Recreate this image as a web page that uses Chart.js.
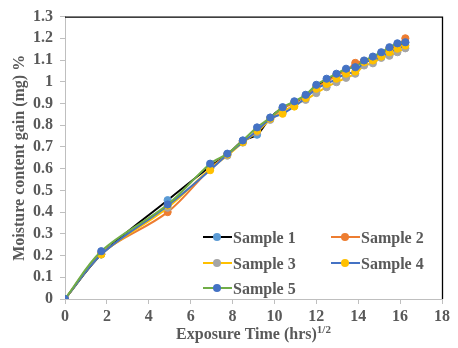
<!DOCTYPE html>
<html><head><meta charset="utf-8">
<script src="https://cdn.jsdelivr.net/npm/chart.js@4.4.1/dist/chart.umd.min.js"></script>
<style>html,body{margin:0;padding:0;background:#fff}#wrap{width:458px;height:348px;position:relative}</style>
</head><body><div id="wrap"><canvas id="c" width="458" height="348"></canvas></div>
<script>
// ---- data ----
const timeX = [0, 1.73, 4.90, 6.93, 7.75, 8.49, 9.17, 9.80, 10.39, 10.95, 11.49, 12.00, 12.49, 12.96, 13.42, 13.86, 14.28, 14.70, 15.10, 15.49, 15.87, 16.25];
const sample1 = [0, 0.205, 0.455, 0.610, 0.665, 0.728, 0.756, 0.835, 0.880, 0.905, 0.935, 0.978, 1.005, 1.030, 1.055, 1.075, 1.095, 1.110, 1.130, 1.150, 1.165, 1.180];
const sample2 = [0, 0.210, 0.400, 0.600, 0.665, 0.725, 0.770, 0.830, 0.875, 0.905, 0.935, 0.975, 1.000, 1.030, 1.050, 1.087, 1.095, 1.110, 1.130, 1.155, 1.170, 1.200];
const sample3 = [0, 0.205, 0.420, 0.600, 0.660, 0.720, 0.770, 0.825, 0.860, 0.895, 0.917, 0.948, 0.975, 0.998, 1.018, 1.037, 1.075, 1.085, 1.110, 1.120, 1.136, 1.154];
const sample4 = [0, 0.205, 0.430, 0.593, 0.665, 0.722, 0.775, 0.830, 0.853, 0.886, 0.925, 0.968, 0.990, 1.014, 1.037, 1.047, 1.090, 1.098, 1.116, 1.136, 1.152, 1.167];
const sample5 = [0, 0.220, 0.435, 0.623, 0.669, 0.730, 0.790, 0.835, 0.883, 0.910, 0.940, 0.986, 1.014, 1.037, 1.060, 1.067, 1.098, 1.116, 1.136, 1.159, 1.177, 1.182];
const seriesNames = ['Sample 1', 'Sample 2', 'Sample 3', 'Sample 4', 'Sample 5'];
const xTickLabels = ['0', '2', '4', '6', '8', '10', '12', '14', '16', '18'];
const yTickLabels = ['0', '0.1', '0.2', '0.3', '0.4', '0.5', '0.6', '0.7', '0.8', '0.9', '1', '1.1', '1.2', '1.3'];
const xTitle = 'Exposure Time (hrs)';
const xTitleSup = '1/2';
const yTitle = 'Moisture content gain (mg) %';

// ---- styles ----
const lineColors = ['#000000', '#ED7D31', '#FFC000', '#4472C4', '#70AD47'];
const markerColors = ['#5B9BD5', '#ED7D31', '#A5A5A5', '#FFC000', '#4472C4'];
const FONT = "'Liberation Serif', 'Times New Roman', serif";
const TXT = '#595959';
const AXIS = '#BFBFBF';

Chart.defaults.font.family = FONT;
Chart.defaults.font.weight = 'bold';
Chart.defaults.font.size = 16;
Chart.defaults.color = TXT;

const allSeries = [sample1, sample2, sample3, sample4, sample5];
const datasets = allSeries.map((s, i) => ({
  label: seriesNames[i],
  data: timeX.map((x, k) => ({ x: x, y: s[k] })),
  borderColor: lineColors[i],
  backgroundColor: markerColors[i],
  pointBackgroundColor: markerColors[i],
  pointBorderColor: markerColors[i],
  pointBorderWidth: 1,
  pointRadius: 3.6,
  borderWidth: 2,
  tension: 0.35,
  fill: false,
  order: 5 - i
}));

const framePlugin = {
  id: 'frame',
  beforeDatasetsDraw(chart) {
    const { ctx, chartArea: a } = chart;
    ctx.save();
    ctx.strokeStyle = '#000';
    ctx.lineWidth = 1.3;
    ctx.beginPath();
    ctx.moveTo(a.left, a.top + 0.5);
    ctx.lineTo(a.right + 0.5, a.top + 0.5);
    ctx.lineTo(a.right + 0.5, a.bottom);
    ctx.stroke();
    ctx.restore();
  }
};

const xTitlePlugin = {
  id: 'xTitle',
  afterDraw(chart) {
    const { ctx, chartArea: a } = chart;
    ctx.save();
    ctx.fillStyle = TXT;
    ctx.textBaseline = 'alphabetic';
    ctx.textAlign = 'left';
    const mainFont = 'bold 16px ' + FONT;
    const supFont = 'bold 11px ' + FONT;
    ctx.font = mainFont;
    const w1 = ctx.measureText(xTitle).width;
    ctx.font = supFont;
    const w2 = ctx.measureText(xTitleSup).width;
    const cx = (a.left + a.right) / 2;
    const x0 = cx - (w1 + w2) / 2;
    const base = 339;
    ctx.font = mainFont;
    ctx.fillText(xTitle, x0, base);
    ctx.font = supFont;
    ctx.fillText(xTitleSup, x0 + w1, base - 6);
    ctx.restore();
  }
};

const legendPlugin = {
  id: 'insideLegend',
  afterDraw(chart) {
    const { ctx } = chart;
    const colX = [203, 331];
    const rowY = [237, 263, 288];
    ctx.save();
    ctx.font = 'bold 16px ' + FONT;
    ctx.fillStyle = TXT;
    ctx.textBaseline = 'alphabetic';
    ctx.textAlign = 'left';
    chart.data.datasets.forEach((ds, i) => {
      const x = colX[i % 2];
      const y = rowY[Math.floor(i / 2)];
      ctx.strokeStyle = ds.borderColor;
      ctx.lineWidth = 2;
      ctx.beginPath();
      ctx.moveTo(x, y);
      ctx.lineTo(x + 29, y);
      ctx.stroke();
      ctx.fillStyle = ds.pointBackgroundColor;
      ctx.beginPath();
      ctx.arc(x + 14, y, 4, 0, Math.PI * 2);
      ctx.fill();
      ctx.fillStyle = TXT;
      ctx.fillText(ds.label, x + 30, y + 5.5);
    });
    ctx.restore();
  }
};

new Chart(document.getElementById('c'), {
  type: 'line',
  data: { datasets: datasets },
  options: {
    responsive: false,
    animation: false,
    devicePixelRatio: 1,
    layout: { padding: { top: 16, right: 16, left: 0, bottom: 0 } },
    plugins: { legend: { display: false }, tooltip: { enabled: false } },
    scales: {
      x: {
        type: 'linear',
        min: 0, max: 18,
        afterFit(s) { s.height = 49; },
        afterBuildTicks(s) { s.ticks = xTickLabels.map(v => ({ value: Number(v) })); },
        ticks: { callback: (v, i) => xTickLabels[i], padding: 3, maxRotation: 0, autoSkip: false },
        grid: { display: true, drawOnChartArea: false, drawTicks: true, tickLength: 5, color: AXIS },
        border: { display: true, color: AXIS, width: 1 }
      },
      y: {
        type: 'linear',
        min: 0, max: 1.3,
        afterFit(s) { s.width = 65; },
        afterBuildTicks(s) { s.ticks = yTickLabels.map(v => ({ value: Number(v) })); },
        ticks: { callback: (v, i) => yTickLabels[i], padding: 7, autoSkip: false },
        grid: { display: true, drawOnChartArea: false, drawTicks: true, tickLength: 5, color: AXIS },
        border: { display: true, color: AXIS, width: 1 },
        title: { display: true, text: yTitle, padding: { top: 10, bottom: 0 }, font: { size: 16, weight: 'bold' }, color: TXT }
      }
    }
  },
  plugins: [framePlugin, xTitlePlugin, legendPlugin]
});
</script>
</body></html>
